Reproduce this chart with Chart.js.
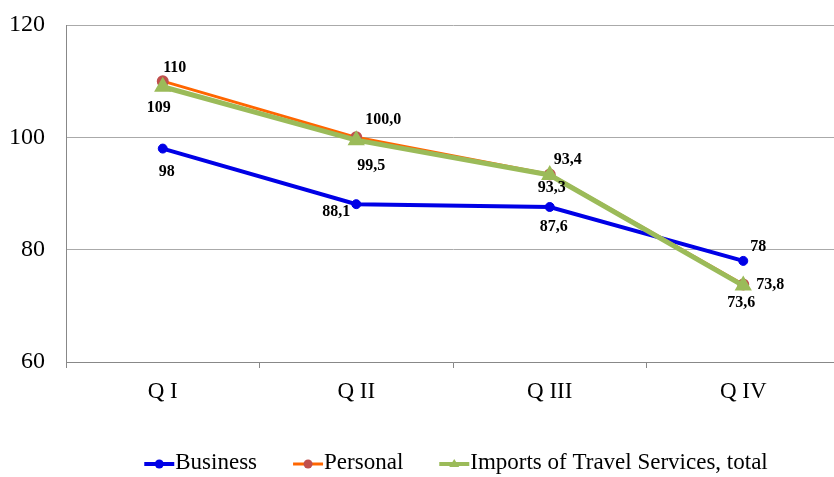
<!DOCTYPE html>
<html>
<head>
<meta charset="utf-8">
<script src="https://cdn.jsdelivr.net/npm/chart.js@4.4.1/dist/chart.umd.min.js"></script>
<style>
  html, body { margin: 0; padding: 0; background: #fff; overflow: hidden; }
  #wrap { width: 850px; height: 477px; position: relative; }
</style>
</head>
<body>
<div id="wrap"><canvas id="travelChart"></canvas></div>
<script>
const quarters = ['Q I', 'Q II', 'Q III', 'Q IV'];
const business = [98, 88.1, 87.6, 78];
const personal = [110, 100.0, 93.4, 73.8];
const importsTotal = [109, 99.5, 93.3, 73.6];
const businessLabels = ['98', '88,1', '87,6', '78'];
const personalLabels = ['110', '100,0', '93,4', '73,8'];
const importsLabels = ['109', '99,5', '93,3', '73,6'];

const SERIF = '"Liberation Serif", "Times New Roman", serif';

// where each value label sits relative to its point (px)
const labelOffsets = [
    [[4, 23], [-20, 8], [4, 20], [15, -14]],
    [[12, -13], [27, -17], [18, -15], [27, 0]],
    [[-4, 21], [15, 26], [2, 13], [-2, 17]]
];

const valueLabels = {
    id: 'valueLabels',
    afterDatasetsDraw(chart) {
        const ctx = chart.ctx;
        const texts = [businessLabels, personalLabels, importsLabels];
        ctx.save();
        ctx.font = 'bold 16px ' + SERIF;
        ctx.fillStyle = '#000';
        ctx.textAlign = 'center';
        ctx.textBaseline = 'middle';
        texts.forEach((arr, d) => {
            const meta = chart.getDatasetMeta(d);
            meta.data.forEach((pt, i) => {
                const off = labelOffsets[d][i];
                ctx.fillText(arr[i], pt.x + off[0], pt.y + off[1]);
            });
        });
        ctx.restore();
    }
};

// bottom legend: short line with the series marker, text right after it
const lineLegend = {
    id: 'lineLegend',
    afterDraw(chart) {
        const ctx = chart.ctx;
        const area = chart.chartArea;
        const swatchW = 30, gap = 1, itemGap = 36, y = 464;
        ctx.save();
        ctx.font = '23px ' + SERIF;
        ctx.textBaseline = 'middle';
        const sets = chart.data.datasets;
        const widths = sets.map(ds => swatchW + gap + ctx.measureText(ds.label).width);
        const total = widths.reduce((a, b) => a + b, 0) + itemGap * (sets.length - 1);
        let x = (area.left + area.right) / 2 + 3 - total / 2;
        sets.forEach((ds, i) => {
            ctx.strokeStyle = ds.borderColor;
            ctx.lineWidth = Math.min(ds.borderWidth, 4);
            ctx.beginPath();
            ctx.moveTo(x, y);
            ctx.lineTo(x + swatchW, y);
            ctx.stroke();
            ctx.fillStyle = ds.pointBackgroundColor || ds.backgroundColor;
            ctx.beginPath();
            const cx = x + swatchW / 2;
            if (ds.pointStyle === 'triangle') {
                ctx.moveTo(cx, y - 5);
                ctx.lineTo(cx + 5, y + 3);
                ctx.lineTo(cx - 5, y + 3);
                ctx.closePath();
            } else {
                ctx.arc(cx, y, 4.5, 0, Math.PI * 2);
            }
            ctx.fill();
            ctx.fillStyle = '#000';
            ctx.fillText(ds.label, x + swatchW + gap, y - 1);
            x += widths[i] + itemGap;
        });
        ctx.restore();
    }
};

new Chart(document.getElementById('travelChart'), {
    type: 'line',
    data: {
        labels: quarters,
        datasets: [
            {
                label: 'Business',
                data: business,
                borderColor: '#0000E6',
                backgroundColor: '#0000E6',
                borderWidth: 4,
                pointRadius: 4.5,
                pointBorderWidth: 1,
                pointStyle: 'circle',
                order: 2
            },
            {
                label: 'Personal',
                data: personal,
                borderColor: '#FF6600',
                backgroundColor: '#C0504D',
                pointBackgroundColor: '#C0504D',
                pointBorderColor: '#C0504D',
                borderWidth: 3,
                pointRadius: 4.5,
                pointStyle: 'circle',
                order: 1
            },
            {
                label: 'Imports of Travel Services, total',
                data: importsTotal,
                borderColor: '#9BBB59',
                backgroundColor: '#9BBB59',
                borderWidth: 5,
                pointRadius: 5,
                pointStyle: 'triangle',
                order: 0
            }
        ]
    },
    options: {
        responsive: true,
        maintainAspectRatio: false,
        animation: false,
        layout: { padding: { top: 25, left: 0, right: 8, bottom: 0 } },
        plugins: {
            tooltip: { enabled: false },
            legend: { display: false }
        },
        scales: {
            x: {
                offset: true,
                grid: {
                    offset: true,
                    drawOnChartArea: false,
                    tickLength: 6,
                    color: '#888'
                },
                border: { color: '#888' },
                ticks: {
                    color: '#000',
                    padding: 10,
                    font: { family: SERIF, size: 23 }
                },
                afterFit(scale) { scale.height = 115; }
            },
            y: {
                min: 60,
                max: 120,
                ticks: {
                    stepSize: 20,
                    color: '#000',
                    padding: 21,
                    font: { family: SERIF, size: 24 }
                },
                grid: { color: '#aaa', drawTicks: false },
                border: { color: '#888' },
                afterFit(scale) {
                    scale.width = 66;
                    scale.paddingTop = 0;
                    scale.paddingBottom = 0;
                }
            }
        }
    },
    plugins: [valueLabels, lineLegend]
});
</script>
</body>
</html>
